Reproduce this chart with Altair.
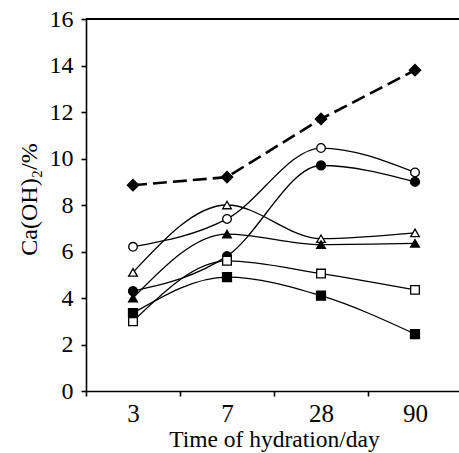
import altair as alt
import pandas as pd

# Hydration ages (days) and Ca(OH)2 content (%) for each mix
days = ["3", "7", "28", "90"]
filled_diamond = [8.85, 9.2, 11.7, 13.8]
open_circle = [6.2, 7.4, 10.45, 9.4]
filled_circle = [4.3, 5.8, 9.7, 9.0]
open_triangle = [5.1, 8.0, 6.55, 6.8]
filled_triangle = [4.0, 6.75, 6.3, 6.35]
open_square = [3.0, 5.6, 5.05, 4.35]
filled_square = [3.35, 4.9, 4.1, 2.45]

series = {
    "filled_diamond": (filled_diamond, "diamond", "black", 130),
    "open_circle": (open_circle, "circle", "white", 75),
    "filled_circle": (filled_circle, "circle", "black", 80),
    "open_triangle": (open_triangle, "triangle-up", "white", 75),
    "filled_triangle": (filled_triangle, "triangle-up", "black", 75),
    "open_square": (open_square, "square", "white", 75),
    "filled_square": (filled_square, "square", "black", 80),
}

rows = []
for name, (vals, shape, fill, size) in series.items():
    for d, v in zip(days, vals):
        rows.append({"series": name, "day": d, "value": v,
                     "shape": shape, "fill": fill, "size": size})
df = pd.DataFrame(rows)

FONT = "Liberation Serif"

x_enc = alt.X(
    "day:N",
    sort=days,
    scale=alt.Scale(type="band", paddingInner=0, paddingOuter=0, range=[0, 376]),
    axis=alt.Axis(
        title="Time of hydration/day",
        labelAngle=0,
        tickBand="extent",
        tickSize=5,
        tickColor="black",
        domainColor="black",
        domainWidth=1.6,
        tickWidth=1.6,
        labelFontSize=25,
        labelFont=FONT,
        labelColor="black",
        labelPadding=5,
        titleFont=FONT,
        titleFontSize=23.5,
        titleFontWeight="normal",
        titleColor="black",
        titlePadding=1,
    ),
)
y_enc = alt.Y(
    "value:Q",
    scale=alt.Scale(domain=[0, 16], nice=False),
    axis=alt.Axis(
        title="Ca(OH)₂/%",
        values=list(range(0, 17, 2)),
        tickSize=5,
        tickColor="black",
        domainColor="black",
        domainWidth=1.6,
        tickWidth=1.6,
        grid=False,
        labelFontSize=24,
        labelFont=FONT,
        labelColor="black",
        labelPadding=8,
        titleFont=FONT,
        titleFontSize=24,
        titleFontWeight="normal",
        titleColor="black",
        titlePadding=8,
        titleY=180,
    ),
)

base = alt.Chart(df)

solid = base.transform_filter(alt.datum.series != "filled_diamond").mark_line(
    color="black", strokeWidth=1.3, interpolate="monotone"
).encode(x=x_enc, y=y_enc, detail="series:N")

dashed = base.transform_filter(alt.datum.series == "filled_diamond").mark_line(
    color="black", strokeWidth=2.6, strokeDash=[14, 6]
).encode(x=x_enc, y=y_enc)

points = base.mark_point(filled=True, stroke="black", strokeWidth=1.3, opacity=1).encode(
    x=x_enc,
    y=y_enc,
    shape=alt.Shape("shape:N", scale=None, legend=None),
    fill=alt.Fill("fill:N", scale=None, legend=None),
    size=alt.Size("size:Q", scale=None, legend=None),
)

# closing line along the top of the plot area
top_rule = alt.Chart(pd.DataFrame({"v": [16]})).mark_rule(
    color="black", strokeWidth=1.8
).encode(y=alt.datum(16))

chart = (
    alt.layer(solid, dashed, points, top_rule)
    .properties(
        width=373,
        height=372,
        autosize=alt.AutoSizeParams(type="none"),
        padding={"left": 86, "top": 19, "right": 0, "bottom": 62},
        background="white",
    )
    .configure_view(stroke=None)
)

chart.save("out.html", embed_options={"renderer": "svg", "actions": False})
